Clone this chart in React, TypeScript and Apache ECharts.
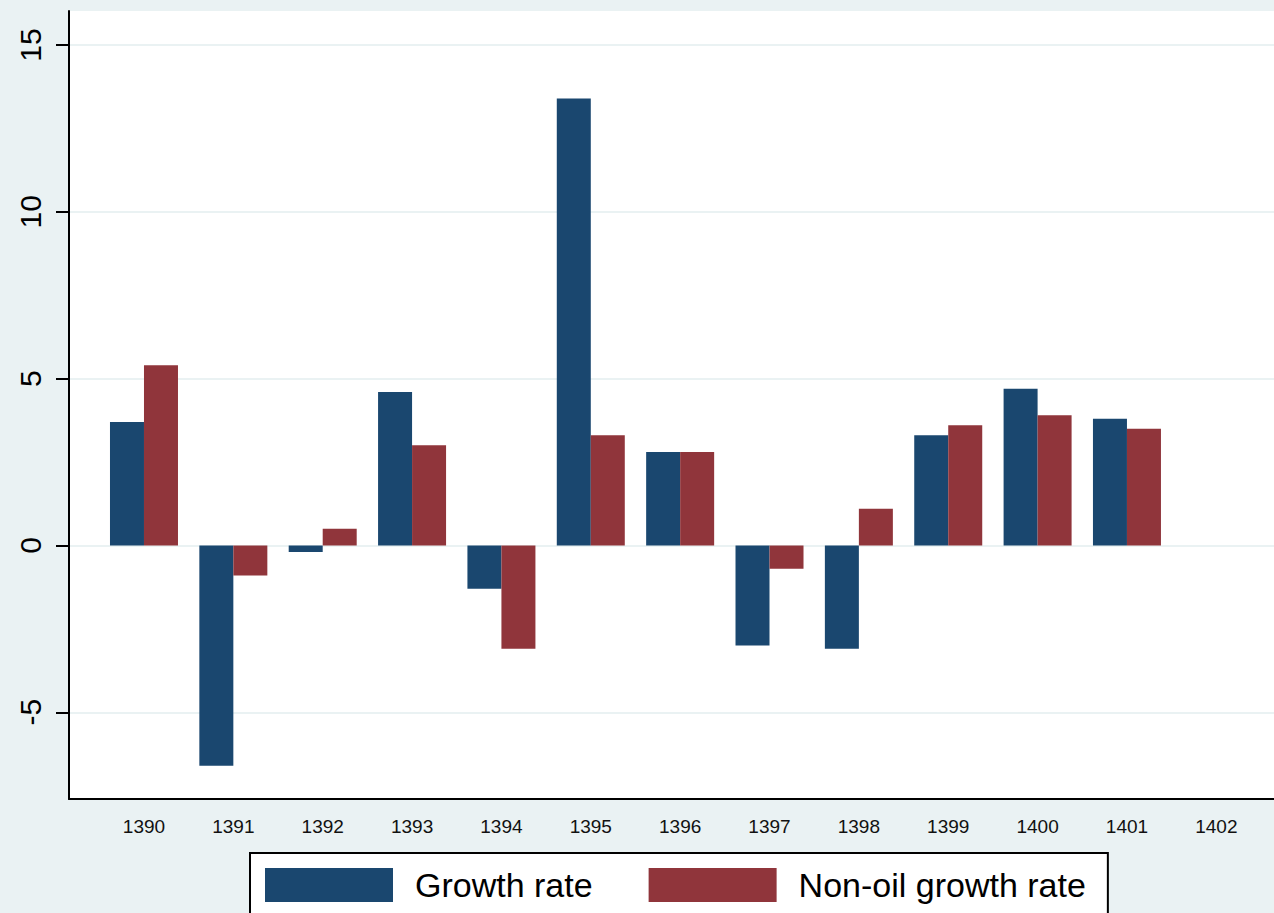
import React, { useEffect, useRef } from "react";
import * as echarts from "echarts";

const categories = ["1390", "1391", "1392", "1393", "1394", "1395", "1396", "1397", "1398", "1399", "1400", "1401", "1402"];
const growthRate = [3.7, -6.6, -0.2, 4.6, -1.3, 13.4, 2.8, -3.0, -3.1, 3.3, 4.7, 3.8, null];
const nonOilGrowthRate = [5.4, -0.9, 0.5, 3.0, -3.1, 3.3, 2.8, -0.7, 1.1, 3.6, 3.9, 3.5, null];
const yTicks = [-5, 0, 5, 10, 15];
const yMin = -7.6;
const yMax = 16.02;

export default function App() {
  const ref = useRef<HTMLDivElement>(null);
  useEffect(() => {
    if (!ref.current) return;
    const chart = echarts.init(ref.current, undefined, { renderer: "svg" });
    const font = "'Liberation Sans', Arial, sans-serif";
    chart.setOption({
      animation: false,
      backgroundColor: "#eaf2f3",
      textStyle: { fontFamily: font },
      grid: [
        { left: 69, right: 0, top: 11, bottom: 114, show: true, backgroundColor: "#ffffff", borderWidth: 0 },
        { left: 99.3, width: 1161.7, top: 11, bottom: 114 },
      ],
      xAxis: [
        {
          gridIndex: 0,
          type: "value",
          min: 0,
          max: 1,
          axisLine: { show: true, onZero: false, lineStyle: { color: "#000", width: 2 } },
          axisTick: { show: false },
          axisLabel: { show: false },
          splitLine: { show: false },
          z: 10,
        },
        {
          gridIndex: 1,
          type: "category",
          data: categories,
          axisLine: { show: false },
          axisTick: { show: false },
          axisLabel: { fontSize: 19, color: "#111", margin: 18, fontFamily: font },
          splitLine: { show: false },
        },
      ],
      yAxis: [
        {
          gridIndex: 0,
          type: "value",
          min: yMin,
          max: yMax,
          axisLine: { show: true, onZero: false, lineStyle: { color: "#000", width: 2 } },
          axisTick: { show: true, customValues: yTicks, length: 13, lineStyle: { color: "#000", width: 2 } },
          axisLabel: { customValues: yTicks, rotate: 90, fontSize: 30, color: "#000", margin: 24, fontFamily: font },
          splitLine: { show: false },
          z: 10,
        },
        {
          gridIndex: 1,
          type: "value",
          min: yMin,
          max: yMax,
          show: false,
          splitLine: { show: false },
        },
      ],
      legend: {
        left: 250,
        top: 853,
        padding: [15, 22, 30, 15],
        itemWidth: 128,
        itemHeight: 34,
        itemGap: 56,
        icon: "rect",
        backgroundColor: "#ffffff",
        borderColor: "#000",
        borderWidth: 2,
        borderRadius: 0,
        textStyle: { fontSize: 34, color: "#000", padding: [0, 0, 0, 17], fontFamily: font },
        data: ["Growth rate", "Non-oil growth rate"],
      },
      series: [
        {
          name: "gridlines",
          type: "line",
          xAxisIndex: 0,
          yAxisIndex: 0,
          data: [],
          z: 0,
          silent: true,
          markLine: {
            silent: true,
            z: 0,
            symbol: "none",
            label: { show: false },
            lineStyle: { color: "#eaf2f3", width: 2, type: "solid" },
            data: yTicks.map((v) => ({ yAxis: v })),
          },
        },
        {
          name: "Growth rate",
          type: "bar",
          xAxisIndex: 1,
          yAxisIndex: 1,
          data: growthRate,
          barWidth: 34,
          barGap: "0%",
          itemStyle: { color: "#1a476f" },
          z: 3,
        },
        {
          name: "Non-oil growth rate",
          type: "bar",
          xAxisIndex: 1,
          yAxisIndex: 1,
          data: nonOilGrowthRate,
          barWidth: 34,
          barGap: "0%",
          itemStyle: { color: "#90353b" },
          z: 3,
        },
      ],
    });
    return () => chart.dispose();
  }, []);
  return <div ref={ref} style={{ position: "absolute", left: 0, top: 0, width: 1274, height: 913 }} />;
}
